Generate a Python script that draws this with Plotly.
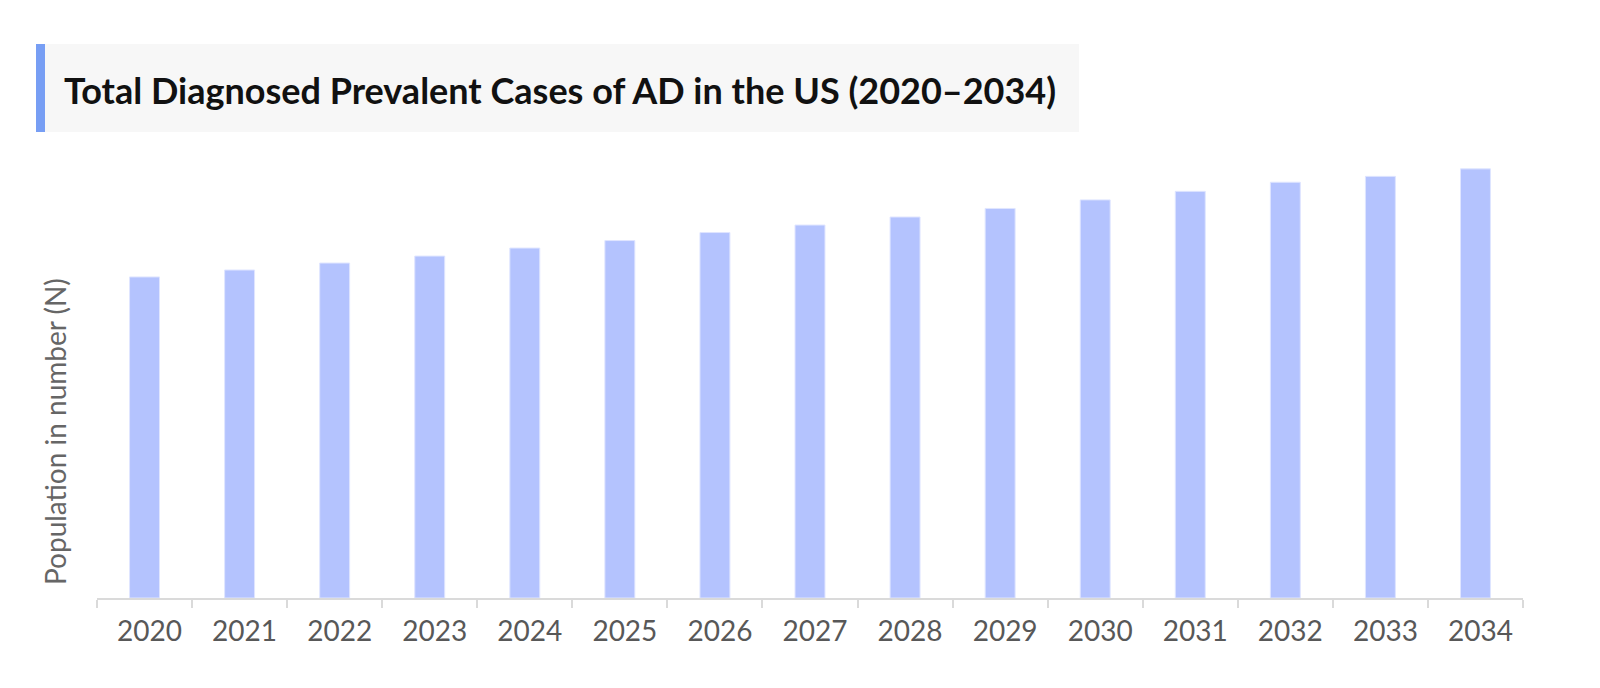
import plotly.graph_objects as go

# (millions; no value axis shown)
years = [str(y) for y in range(2020, 2035)]
cases = [6.00, 6.13, 6.26, 6.39, 6.54, 6.68, 6.83, 6.97,
         7.12, 7.28, 7.44, 7.60, 7.77, 7.88, 8.02]

W, H = 1600, 688
L, R, T, B = 89, 85, 140, 98
PW, PH = W - L - R, H - T - B


def px(x):
    return (x - L) / PW


def py(y):
    return (H - B - y) / PH


fig = go.Figure(go.Bar(
    x=years,
    y=cases,
    marker_color='#b4c3fe',
    marker_line=dict(color='#dfe5ff', width=1),
    hovertemplate='%{x}: %{y}<extra></extra>',
))

fig.update_layout(
    width=W, height=H,
    margin=dict(l=L, r=R, t=T, b=B, autoexpand=False),
    plot_bgcolor='white',
    paper_bgcolor='white',
    bargap=0.685,
    showlegend=False,
    font=dict(family='Lato, sans-serif', color='#555555'),
)

fig.update_xaxes(
    type='category',
    showline=True, linecolor='#dadada', linewidth=2,
    ticks='outside', tickson='boundaries', ticklen=8,
    tickcolor='#dadada', tickwidth=2,
    tickfont=dict(size=28, color='#585858'),
    ticklabelshift=5, ticklabelstandoff=7,
    showgrid=False,
)

fig.update_yaxes(
    range=[0, 8.41],
    showticklabels=False, showgrid=False, zeroline=False,
    automargin=False,
)

# y-axis title
fig.add_annotation(
    xref='paper', yref='paper', x=px(47), y=py(424),
    xanchor='center', yanchor='middle', showarrow=False, textangle=-90,
    text='Population in number (N)',
    font=dict(family='Lato, sans-serif', size=28, color='#666666'),
)

# Title box with accent bar
fig.add_shape(type='rect', xref='paper', yref='paper',
              x0=px(28), x1=px(1071), y0=py(124), y1=py(36),
              fillcolor='#f7f7f7', line_width=0, layer='below')
fig.add_shape(type='rect', xref='paper', yref='paper',
              x0=px(28), x1=px(37), y0=py(124), y1=py(36),
              fillcolor='#779ef4', line_width=0)
fig.add_annotation(
    xref='paper', yref='paper', x=px(54), y=py(82),
    xanchor='left', yanchor='middle', showarrow=False,
    text='<b>Total Diagnosed Prevalent Cases of AD in the US (2020–2034)</b>',
    font=dict(family='Lato, sans-serif', size=36, color='#111111'),
)

fig.write_html('out.html')
